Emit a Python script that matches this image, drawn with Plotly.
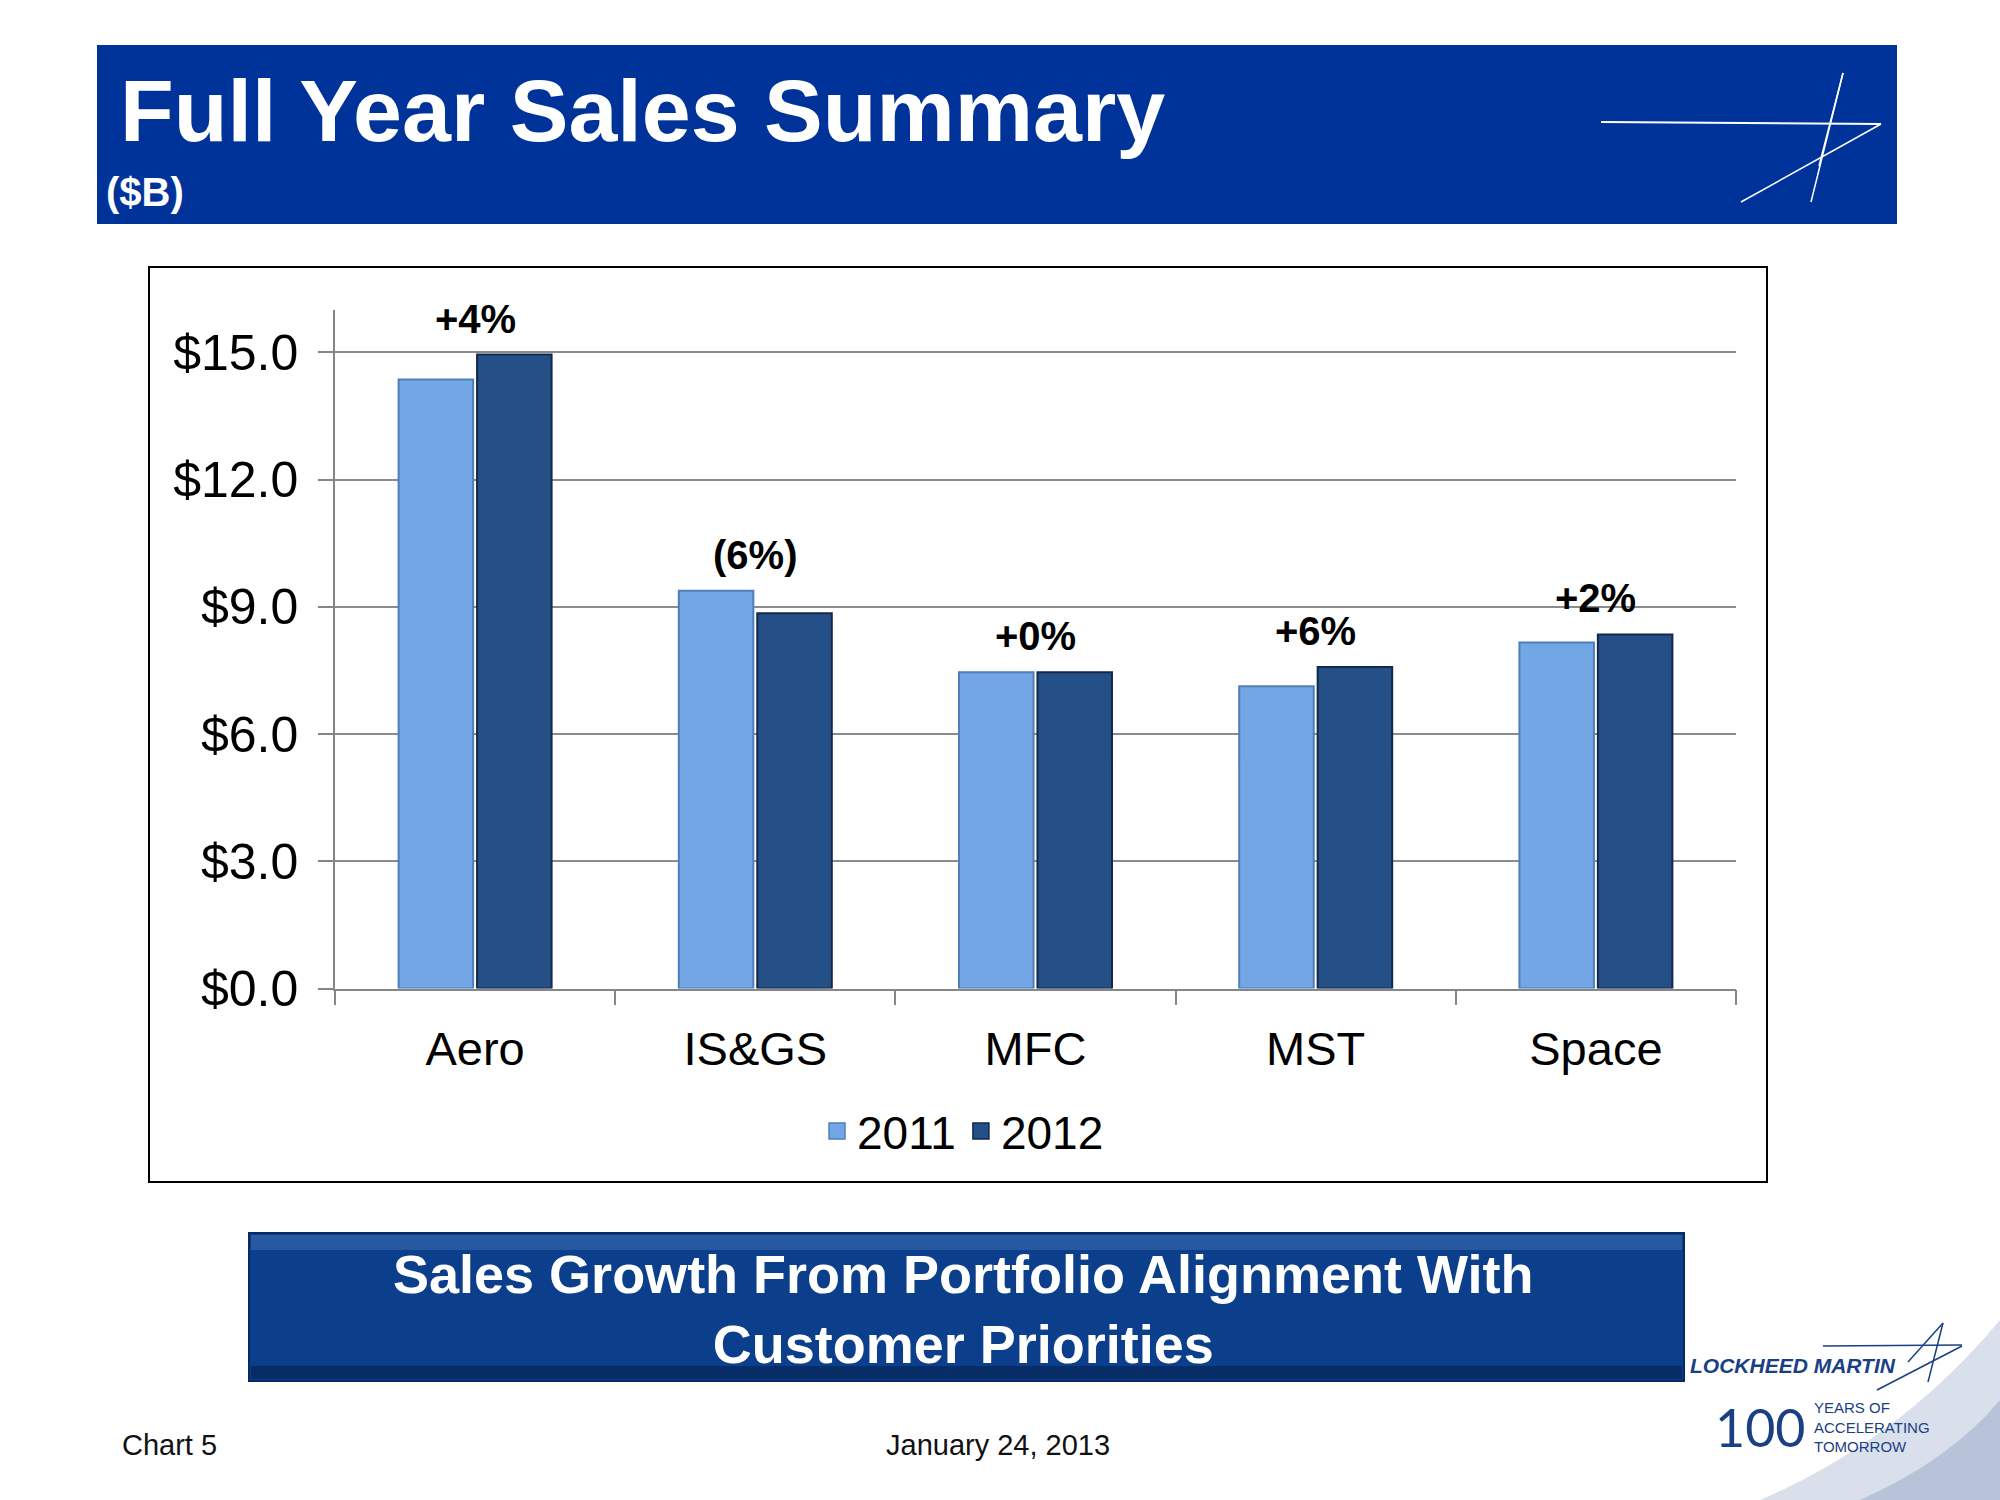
import plotly.graph_objects as go

# ---------------- data ----------------
categories = ["Aero", "IS&GS", "MFC", "MST", "Space"]
sales_2011 = [14.36, 9.38, 7.46, 7.13, 8.16]
sales_2012 = [14.95, 8.85, 7.46, 7.58, 8.35]
growth_labels = ["+4%", "(6%)", "+0%", "+6%", "+2%"]
series_names = ["2011", "2012"]
y_ticks = [0, 3, 6, 9, 12, 15]
y_tick_labels = ["$%.1f" % v for v in y_ticks]

W, H = 2000, 1500
def px(x):
    return x / W
def py(y):
    return 1 - y / H

FONT = "Liberation Sans, Arial, sans-serif"
BLUE_HDR = "#00339A"
C2011 = "#73A6E4"
C2012 = "#254F87"
L2011 = "#4F7EBB"
L2012 = "#12284C"

fig = go.Figure()
fig.add_trace(go.Bar(
    x=categories, y=sales_2011, name=series_names[0], showlegend=False,
    marker=dict(color=C2011, line=dict(color=L2011, width=2)),
))
fig.add_trace(go.Bar(
    x=categories, y=sales_2012, name=series_names[1], showlegend=False,
    marker=dict(color=C2012, line=dict(color=L2012, width=2)),
))
# legend-only entries with larger square keys
for nm, c, lc in [(series_names[0], C2011, L2011), (series_names[1], C2012, L2012)]:
    fig.add_trace(go.Scatter(
        x=[None], y=[None], mode="markers", name=nm, showlegend=True,
        marker=dict(symbol="square", size=16, color=c, line=dict(color=lc, width=1.5)),
    ))

# growth labels above each category
for c, a, b, t in zip(categories, sales_2011, sales_2012, growth_labels):
    fig.add_annotation(x=c, y=max(a, b), text=t, showarrow=False,
                       yanchor="bottom", yshift=12, xref="x", yref="y",
                       font=dict(family=FONT, size=40, color="black", weight="bold"))

shapes = []
# header band
shapes.append(dict(type="rect", xref="paper", yref="paper",
                   x0=px(97), x1=px(1897), y0=py(224), y1=py(45),
                   fillcolor=BLUE_HDR, line=dict(width=0), layer="below"))
# header star logo
for (x0, y0, x1, y1, w) in [(1601, 122, 1881, 124, 2), (1843, 73, 1811, 202, 1.5),
                            (1843, 73, 1819, 166, 1.5), (1881, 124, 1741, 202, 1.5)]:
    shapes.append(dict(type="line", xref="paper", yref="paper",
                       x0=px(x0), y0=py(y0), x1=px(x1), y1=py(y1),
                       line=dict(color="white", width=w)))
# chart frame
shapes.append(dict(type="rect", xref="paper", yref="paper",
                   x0=px(149), x1=px(1767), y0=py(1182), y1=py(267),
                   fillcolor="white", line=dict(color="black", width=2), layer="below"))
# bottom message box
shapes.append(dict(type="rect", xref="paper", yref="paper",
                   x0=px(249), x1=px(1684), y0=py(1381), y1=py(1233),
                   fillcolor="#0C3F8B", line=dict(color="#082A62", width=2)))
shapes.append(dict(type="rect", xref="paper", yref="paper",
                   x0=px(251), x1=px(1682), y0=py(1250), y1=py(1235),
                   fillcolor="#2758A2", line=dict(width=0)))
shapes.append(dict(type="rect", xref="paper", yref="paper",
                   x0=px(251), x1=px(1682), y0=py(1379), y1=py(1366),
                   fillcolor="#072C66", line=dict(width=0)))
# bottom-right swoosh
shapes.append(dict(type="path", xref="paper", yref="paper",
                   path=f"M {px(1760)} {py(1500)} Q {px(1900)} {py(1440)} {px(2000)} {py(1320)} L {px(2000)} {py(1500)} Z",
                   fillcolor="rgba(170,186,212,0.45)", line=dict(width=0), layer="below"))
shapes.append(dict(type="path", xref="paper", yref="paper",
                   path=f"M {px(1860)} {py(1500)} Q {px(1950)} {py(1460)} {px(2000)} {py(1400)} L {px(2000)} {py(1500)} Z",
                   fillcolor="rgba(140,160,195,0.45)", line=dict(width=0), layer="below"))
# small star near Lockheed Martin
for (x0, y0, x1, y1) in [(1823, 1346, 1962, 1345), (1943, 1323, 1928, 1382),
                         (1943, 1323, 1908, 1362), (1962, 1346, 1877, 1390)]:
    shapes.append(dict(type="line", xref="paper", yref="paper",
                       x0=px(x0), y0=py(y0), x1=px(x1), y1=py(y1),
                       line=dict(color="#1B3F85", width=1.5)))

annotations = [
    dict(text="Full Year Sales Summary", x=px(118), y=py(110), xanchor="left", yanchor="middle",
         font=dict(family=FONT, size=88, color="white", weight="bold")),
    dict(text="($B)", x=px(104), y=py(192), xanchor="left", yanchor="middle",
         font=dict(family=FONT, size=40, color="white", weight="bold")),
    dict(text="Sales Growth From Portfolio Alignment With<br>Customer Priorities",
         x=px(963), y=py(1309), xanchor="center", yanchor="middle",
         font=dict(family=FONT, size=54, color="white", weight="bold")),
    dict(text="Chart 5", x=px(120), y=py(1445), xanchor="left", yanchor="middle",
         font=dict(family=FONT, size=29, color="#111111")),
    dict(text="January 24, 2013", x=px(998), y=py(1445), xanchor="center", yanchor="middle",
         font=dict(family=FONT, size=29, color="#111111")),
    dict(text="<i>LOCKHEED MARTIN</i>", x=px(1688), y=py(1365), xanchor="left", yanchor="middle",
         font=dict(family=FONT, size=21, color="#1B3F85", weight="bold")),
    dict(text="100", x=px(1713), y=py(1427), xanchor="left", yanchor="middle",
         font=dict(family="Lato, Liberation Sans, sans-serif", size=52, color="#1B3F85")),
    dict(text="YEARS OF<br>ACCELERATING<br>TOMORROW", x=px(1812), y=py(1427), xanchor="left",
         yanchor="middle", align="left",
         font=dict(family=FONT, size=15, color="#1B3F85")),
]
for a in annotations:
    fig.add_annotation(xref="paper", yref="paper", showarrow=False, **a)

fig.update_layout(
    width=W, height=H,
    margin=dict(l=0, r=0, t=0, b=0),
    paper_bgcolor="white", plot_bgcolor="rgba(0,0,0,0)",
    barmode="group", bargap=0.44, bargroupgap=0.05,
    font=dict(family=FONT, color="black"),
    shapes=shapes,
    showlegend=True,
    legend=dict(orientation="h", x=0.4815, xanchor="center", y=py(1131), yanchor="middle",
                font=dict(family=FONT, size=46, color="black"), bgcolor="rgba(0,0,0,0)",
                itemwidth=30, itemsizing="trace", traceorder="normal"),
)
fig.update_xaxes(
    domain=[px(335), px(1736)], showline=True, linecolor="#868686", linewidth=1.5,
    ticks="outside", tickson="boundaries", ticklen=15, tickcolor="#868686", tickwidth=1.5,
    tickfont=dict(family=FONT, size=47, color="black"), automargin=False,
    ticklabelstandoff=18,
)
fig.update_yaxes(
    domain=[py(988.5), py(310)], range=[0, 16], tickmode="array",
    tickvals=y_ticks, ticktext=y_tick_labels,
    showline=True, linecolor="#868686", linewidth=1.5,
    ticks="outside", ticklen=15, tickcolor="#868686", tickwidth=1.5,
    showgrid=True, gridcolor="#8C8C8C", gridwidth=1.5, zeroline=False,
    tickfont=dict(family=FONT, size=50, color="black"), automargin=False,
    ticklabelstandoff=10,
)

fig.write_html("out.html", config={"displayModeBar": False},
               post_script="document.body.style.margin='0';document.body.style.overflow='hidden';")
